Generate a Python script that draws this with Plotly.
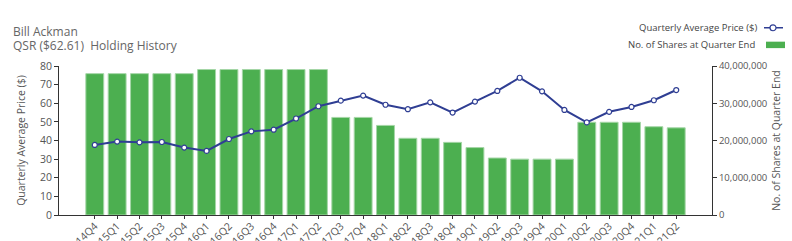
import plotly.graph_objects as go

quarters = ["2014Q4",
            "2015Q1", "2015Q2", "2015Q3", "2015Q4",
            "2016Q1", "2016Q2", "2016Q3", "2016Q4",
            "2017Q1", "2017Q2", "2017Q3", "2017Q4",
            "2018Q1", "2018Q2", "2018Q3", "2018Q4",
            "2019Q1", "2019Q2", "2019Q3", "2019Q4",
            "2020Q1", "2020Q2", "2020Q3", "2020Q4",
            "2021Q1", "2021Q2"]

avg_price = [37.6, 39.4, 39.0, 39.2, 36.2, 34.4, 40.8, 44.9, 45.8, 51.8, 58.4,
             61.4, 64.1, 59.2, 56.8, 60.5, 55.0, 60.9, 66.6, 73.7, 66.4, 56.4,
             49.7, 55.4, 58.0, 61.6, 67.1]

shares = [37_950_000, 37_950_000, 37_950_000, 37_950_000, 37_950_000,
          39_050_000, 39_050_000, 39_050_000, 39_050_000, 39_050_000, 39_050_000,
          26_200_000, 26_200_000, 24_050_000, 20_600_000, 20_600_000, 19_500_000,
          18_100_000, 15_300_000, 15_000_000, 15_000_000, 15_000_000,
          24_900_000, 24_900_000, 24_900_000, 23_700_000, 23_400_000]

left_ticks = [0, 10, 20, 30, 40, 50, 60, 70, 80]
right_ticks = [0, 10_000_000, 20_000_000, 30_000_000, 40_000_000]

FONT = "Open Sans"
GREEN = "#4CAF50"
BLUE = "#2F3E93"

fig = go.Figure()
fig.add_trace(go.Bar(
    x=quarters, y=shares, yaxis="y", name="No. of Shares at Quarter End",
    marker=dict(color=GREEN, line=dict(color="#A5D6A7", width=1)),
    showlegend=False,
))
fig.add_trace(go.Scatter(
    x=quarters, y=avg_price, yaxis="y2", name="Quarterly Average Price ($)",
    mode="lines+markers",
    line=dict(color=BLUE, width=2),
    marker=dict(size=5, color="white", line=dict(color=BLUE, width=1.2)),
    showlegend=False,
))

L, R, T, B = 59, 80, 65.5, 25.5
W, H = 792, 241
pw = W - L - R
ph = H - T - B

def px(x):
    return (x - L) / pw

def py(y):
    return (H - B - y) / ph

shapes = [
    dict(type="line", xref="paper", yref="paper", x0=px(764), x1=px(783),
         y0=py(27), y1=py(27), line=dict(color=BLUE, width=1.5)),
    dict(type="circle", xref="paper", yref="paper", x0=px(770), x1=px(776),
         y0=py(24), y1=py(30), fillcolor="white", line=dict(color=BLUE, width=1.2)),
    dict(type="rect", xref="paper", yref="paper", x0=px(766), x1=px(785),
         y0=py(41), y1=py(47.5), fillcolor=GREEN, line=dict(width=0)),
]

annotations = [
    dict(text="Bill Ackman", xref="paper", yref="paper", x=px(11), y=py(31),
         xanchor="left", yanchor="middle", showarrow=False,
         font=dict(family=FONT, size=12, color="#666")),
    dict(text="QSR ($62.61)\u00a0\u00a0Holding History", xref="paper", yref="paper",
         x=px(11), y=py(45), xanchor="left", yanchor="middle", showarrow=False,
         font=dict(family=FONT, size=12, color="#666")),
    dict(text="Quarterly Average Price ($)", xref="paper", yref="paper",
         x=px(759), y=py(27), xanchor="right", yanchor="middle", showarrow=False,
         font=dict(family=FONT, size=9.5, color="#444")),
    dict(text="No. of Shares at Quarter End", xref="paper", yref="paper",
         x=px(757), y=py(44), xanchor="right", yanchor="middle", showarrow=False,
         font=dict(family=FONT, size=9.5, color="#444")),
]

axis_common = dict(
    showline=True, linecolor="#333", linewidth=1,
    ticks="outside", ticklen=4, tickcolor="#333",
    showgrid=False, zeroline=False, automargin=False,
)

fig.update_layout(
    width=W, height=H,
    margin=dict(l=L, r=R, t=T, b=B, autoexpand=False),
    paper_bgcolor="white", plot_bgcolor="white",
    font=dict(family=FONT, color="#555"),
    bargap=0.2,
    shapes=shapes, annotations=annotations,
    xaxis=dict(
        type="category", tickangle=-45, automargin=False,
        showline=True, linecolor="#333", linewidth=1,
        ticks="outside", ticklen=3, tickcolor="#333",
        ticklabelstandoff=-3,
        tickfont=dict(size=10.5, color="#555"), showgrid=False,
    ),
    yaxis=dict(
        range=[0, 40_000_000], tickvals=right_ticks, side="right",
        tickformat=",d", tickfont=dict(size=9.5, color="#555"),
        title=dict(text="No. of Shares at Quarter End", font=dict(size=10.5, color="#555"),
                   standoff=6),
        **axis_common,
    ),
    yaxis2=dict(
        range=[0, 80], tickvals=left_ticks, overlaying="y", side="left",
        tickfont=dict(size=10.5, color="#555"),
        title=dict(text="Quarterly Average Price ($)", font=dict(size=10.5, color="#555"),
                   standoff=12),
        **axis_common,
    ),
)

fig.write_html("out.html")
